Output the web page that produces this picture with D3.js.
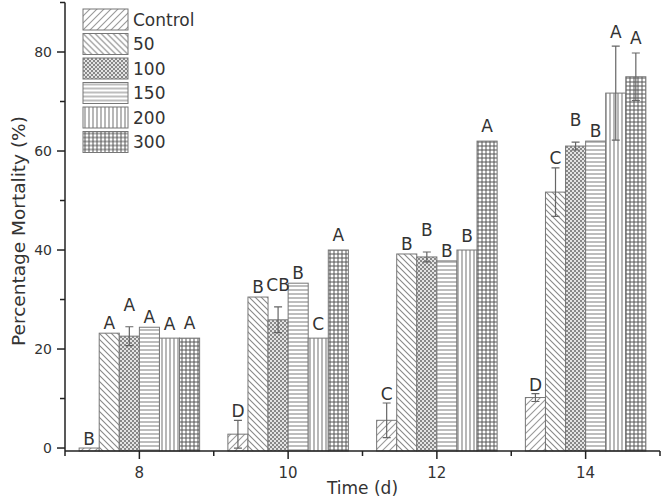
<!DOCTYPE html>
<html>
<head>
<meta charset="utf-8">
<script src="https://d3js.org/d3.v7.min.js"></script>
<style>
    body { margin: 0; background: #fff; }
    svg { display: block; font-family: "DejaVu Sans", sans-serif; }
</style>
</head>
<body>
<svg id="chart" width="663" height="504"></svg>
<script>
// DATA
var days = [8, 10, 12, 14];
var treatments = ["Control", "50", "100", "150", "200", "300"];

var mortalityDay8 = [0, 23.2, 22.6, 24.4, 22.2, 22.2];
var mortalityDay10 = [2.8, 30.5, 25.9, 33.3, 22.2, 40.0];
var mortalityDay12 = [5.6, 39.2, 38.6, 37.8, 40.0, 62.0];
var mortalityDay14 = [10.2, 51.7, 61.0, 62.0, 71.7, 75.0];

var errorDay8 = [0, 0, 1.9, 0, 0, 0];
var errorDay10 = [2.8, 0, 2.6, 0, 0, 0];
var errorDay12 = [3.5, 0, 1.0, 0, 0, 0];
var errorDay14 = [0.8, 4.9, 0.8, 0, 9.5, 4.8];

var lettersDay8 = ["B", "A", "A", "A", "A", "A"];
var lettersDay10 = ["D", "B", "CB", "B", "C", "A"];
var lettersDay12 = ["C", "B", "B", "B", "B", "A"];
var lettersDay14 = ["D", "C", "B", "B", "A", "A"];

var yTicks = [0, 20, 40, 60, 80];
var yMinorTicks = [10, 30, 50, 70, 90];
var xMinorTicks = [7, 9, 11, 13, 15];

var mortality = [mortalityDay8, mortalityDay10, mortalityDay12, mortalityDay14];
var errors = [errorDay8, errorDay10, errorDay12, errorDay14];
var letters = [lettersDay8, lettersDay10, lettersDay12, lettersDay14];

// STYLE
var _barWidthDays = 0.27;
var _labelGap = [3, 4, 16, 4, 8, 9];
var _patternIds = ["p-control", "p-50", "p-100", "p-150", "p-200", "p-300"];
var _textColor = "#333";

var svg = d3.select("#chart");

var x = d3.scaleLinear().domain([7, 15]).range([65, 660]);
var y = d3.scaleLinear().domain([-0.6, 90]).range([451, 2.5]);
var barW = x(7 + _barWidthDays) - x(7);

// patterns
var defs = svg.append("defs");

var makePattern = function(id, size, draw) {
    var p = defs.append("pattern")
        .attr("id", id)
        .attr("patternUnits", "userSpaceOnUse")
        .attr("width", size)
        .attr("height", size);
    p.append("rect").attr("width", size).attr("height", size).attr("fill", "#fff");
    draw(p);
};

makePattern("p-control", 7, function(p) {
    p.append("path").attr("d", "M0,7 L7,0 M-1,1 L1,-1 M6,8 L8,6")
        .attr("stroke", "#999").attr("stroke-width", 1.1);
});
makePattern("p-50", 6, function(p) {
    p.append("path").attr("d", "M0,0 L6,6 M-1,5 L1,7 M5,-1 L7,1")
        .attr("stroke", "#888").attr("stroke-width", 1.1);
});
makePattern("p-100", 4, function(p) {
    p.append("rect").attr("width", 4).attr("height", 4).attr("fill", "#e4e4e4");
    p.append("rect").attr("x", 0).attr("y", 0).attr("width", 2).attr("height", 2).attr("fill", "#888");
    p.append("rect").attr("x", 2).attr("y", 2).attr("width", 2).attr("height", 2).attr("fill", "#888");
});
makePattern("p-150", 4, function(p) {
    p.append("path").attr("d", "M0,2 L4,2")
        .attr("stroke", "#999").attr("stroke-width", 1.3);
});
makePattern("p-200", 4, function(p) {
    p.append("path").attr("d", "M2,0 L2,4")
        .attr("stroke", "#888").attr("stroke-width", 1.2);
});
makePattern("p-300", 4, function(p) {
    p.append("path").attr("d", "M0,2 L4,2 M2,0 L2,4")
        .attr("stroke", "#555").attr("stroke-width", 1);
});

// bars
var barData = [];
days.forEach(function(day, di) {
    treatments.forEach(function(t, si) {
        barData.push({
            day: day,
            series: si,
            value: mortality[di][si],
            err: errors[di][si],
            letter: letters[di][si]
        });
    });
});

var barX = function(d) {
    return x(d.day) + (d.series - 3) * barW;
};

var gBars = svg.append("g").classed("bars", true);

gBars.selectAll("rect")
    .data(barData)
    .enter()
    .append("rect")
        .attr("x", barX)
        .attr("y", function(d) { return y(d.value); })
        .attr("width", barW)
        .attr("height", function(d) { return y(-0.6) - y(d.value); })
        .attr("fill", function(d) { return "url(#" + _patternIds[d.series] + ")"; })
        .attr("stroke", "#777")
        .attr("stroke-width", 1);

// error bars
var errData = barData.filter(function(d) { return d.err > 0; });
var gErr = svg.append("g").classed("errors", true)
    .attr("stroke", "#666")
    .attr("stroke-width", 1.2)
    .attr("fill", "none");

gErr.selectAll("path")
    .data(errData)
    .enter()
    .append("path")
        .attr("d", function(d) {
            var cx = barX(d) + barW / 2;
            var top = y(d.value + d.err);
            var bot = y(d.value - d.err);
            return "M" + cx + "," + top + "L" + cx + "," + bot +
                "M" + (cx - 4) + "," + top + "L" + (cx + 4) + "," + top +
                "M" + (cx - 4) + "," + bot + "L" + (cx + 4) + "," + bot;
        });

// significance letters
svg.append("g").classed("letters", true)
    .selectAll("text")
    .data(barData)
    .enter()
    .append("text")
        .attr("x", function(d) { return barX(d) + barW / 2; })
        .attr("y", function(d) { return y(d.value + d.err) - _labelGap[d.series]; })
        .attr("text-anchor", "middle")
        .attr("font-size", 17)
        .attr("fill", _textColor)
        .text(function(d) { return d.letter; });

// axes
var gAxes = svg.append("g").classed("axes", true)
    .attr("stroke", "#222")
    .attr("stroke-width", 1.5);

gAxes.append("line")
    .attr("x1", x(7)).attr("x2", x(7))
    .attr("y1", y(90)).attr("y2", y(-0.6));
gAxes.append("line")
    .attr("x1", x(7)).attr("x2", x(15))
    .attr("y1", y(-0.6)).attr("y2", y(-0.6));

gAxes.selectAll(".ytick")
    .data(yTicks)
    .enter()
    .append("line")
        .attr("x1", x(7) - 8).attr("x2", x(7))
        .attr("y1", function(d) { return y(d); })
        .attr("y2", function(d) { return y(d); });

gAxes.selectAll(".yminor")
    .data(yMinorTicks)
    .enter()
    .append("line")
        .attr("x1", x(7) - 5).attr("x2", x(7))
        .attr("y1", function(d) { return y(d); })
        .attr("y2", function(d) { return y(d); });

gAxes.selectAll(".xtick")
    .data(days)
    .enter()
    .append("line")
        .attr("x1", function(d) { return x(d); })
        .attr("x2", function(d) { return x(d); })
        .attr("y1", y(-0.6)).attr("y2", y(-0.6) + 8);

gAxes.selectAll(".xminor")
    .data(xMinorTicks)
    .enter()
    .append("line")
        .attr("x1", function(d) { return x(d); })
        .attr("x2", function(d) { return x(d); })
        .attr("y1", y(-0.6)).attr("y2", y(-0.6) + 5);

// tick labels
svg.append("g").selectAll("text")
    .data(yTicks)
    .enter()
    .append("text")
        .attr("x", x(7) - 13)
        .attr("y", function(d) { return y(d); })
        .attr("dy", ".35em")
        .attr("text-anchor", "end")
        .attr("font-size", 14)
        .attr("fill", _textColor)
        .text(function(d) { return d; });

svg.append("g").selectAll("text")
    .data(days)
    .enter()
    .append("text")
        .attr("x", function(d) { return x(d); })
        .attr("y", 478)
        .attr("text-anchor", "middle")
        .attr("font-size", 15)
        .attr("fill", _textColor)
        .text(function(d) { return d; });

// axis titles
svg.append("text")
    .attr("x", (x(7) + x(15)) / 2)
    .attr("y", 494)
    .attr("text-anchor", "middle")
    .attr("font-size", 17)
    .attr("fill", _textColor)
    .text("Time (d)");

svg.append("text")
    .attr("transform", "translate(25," + 231 + ") rotate(-90)")
    .attr("text-anchor", "middle")
    .attr("font-size", 18.5)
    .attr("fill", _textColor)
    .text("Percentage Mortality (%)");

// legend
var gLegend = svg.append("g").classed("legend", true)
    .attr("transform", "translate(83,9)");

var legendItems = gLegend.selectAll("g")
    .data(treatments)
    .enter()
    .append("g")
        .attr("transform", function(d, i) { return "translate(0," + (i * 24.5) + ")"; });

legendItems.append("rect")
    .attr("width", 45)
    .attr("height", 21)
    .attr("fill", function(d, i) { return "url(#" + _patternIds[i] + ")"; })
    .attr("stroke", "#777")
    .attr("stroke-width", 1);

legendItems.append("text")
    .attr("x", 50)
    .attr("y", 11)
    .attr("dy", ".35em")
    .attr("font-size", 17)
    .attr("fill", _textColor)
    .text(function(d) { return d; });
</script>
</body>
</html>
